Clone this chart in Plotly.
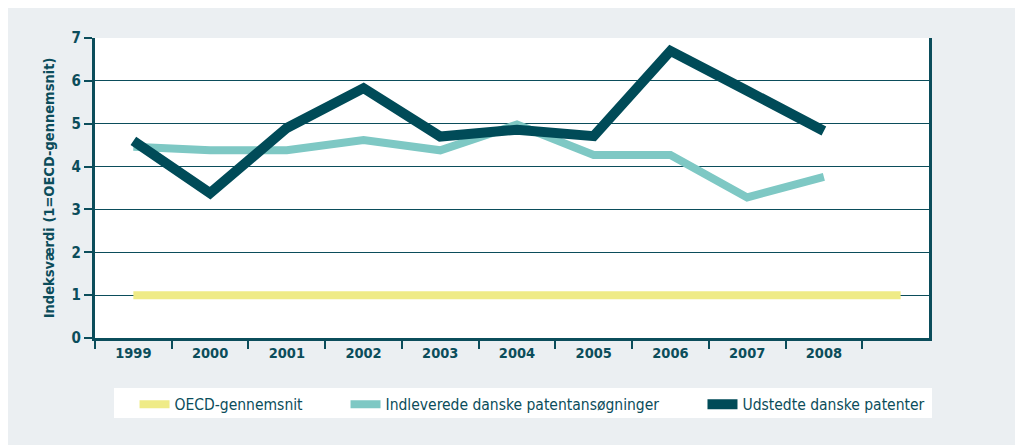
import plotly.graph_objects as go

years = ["1999", "2000", "2001", "2002", "2003", "2004", "2005", "2006", "2007", "2008"]
oecd = [1, 1, 1, 1, 1, 1, 1, 1, 1, 1, 1]
indleverede = [4.46, 4.38, 4.38, 4.62, 4.38, 4.98, 4.27, 4.27, 3.28, 3.76]
udstedte = [4.6, 3.38, 4.9, 5.83, 4.7, 4.86, 4.71, 6.7, 5.77, 4.83]

DARK = "#004b58"
LIGHT = "#7ec8c4"
YELLOW = "#efeb87"
AXIS = "#0b4d5b"
BG = "#ebeff2"
NARROW = "DejaVu Sans Condensed, Roboto"

fig = go.Figure()
fig.add_trace(go.Scatter(x=list(range(len(oecd))), y=oecd, mode="lines", legend="legend",
                         line=dict(color=YELLOW, width=8), name="OECD-gennemsnit"))
fig.add_trace(go.Scatter(x=list(range(len(indleverede))), y=indleverede, mode="lines", legend="legend2",
                         line=dict(color=LIGHT, width=8), name="Indleverede danske patentansøgninger"))
fig.add_trace(go.Scatter(x=list(range(len(udstedte))), y=udstedte, mode="lines", legend="legend3",
                         line=dict(color=DARK, width=10), name="Udstedte danske patenter"))

fig.add_shape(type="rect", xref="paper", yref="paper", x0=0.0228, x1=1.0036,
              y0=-0.2667, y1=-0.1667, fillcolor="white", line=dict(width=0), layer="below")

leg_common = dict(orientation="h", y=-0.222, yanchor="middle", xanchor="left",
                  bgcolor="rgba(0,0,0,0)", font=dict(size=15.5, color=AXIS, family=NARROW),
                  itemwidth=30)

fig.update_layout(
    width=1015, height=437,
    margin=dict(l=87, r=94, t=30, b=107),
    paper_bgcolor=BG, plot_bgcolor="white",
    font=dict(family=NARROW, color=AXIS),
    showlegend=True,
    legend=dict(x=0.0474, **leg_common),
    legend2=dict(x=0.3004, **leg_common),
    legend3=dict(x=0.7284, **leg_common),
    xaxis=dict(range=[-0.5, 10.37], tickmode="array", tickvals=list(range(len(years))),
               ticktext=["<b>%s</b>" % y for y in years], ticks="", showgrid=False, zeroline=False,
               showline=True, linecolor=AXIS, linewidth=3,
               tickfont=dict(size=14.5, color=AXIS, family=NARROW),
               minor=dict(tickmode="array", tickvals=[i - 0.5 for i in range(11)],
                          ticks="outside", ticklen=8, tickwidth=1.5, tickcolor=AXIS, showgrid=False),
               fixedrange=True),
    yaxis=dict(range=[0, 7], tickmode="array", tickvals=[0, 1, 2, 3, 4, 5, 6, 7],
               ticktext=["<b>%d</b>" % v for v in range(8)],
               ticks="outside", ticklen=8, tickwidth=1.5, tickcolor=AXIS,
               showgrid=True, gridcolor=AXIS, gridwidth=1.3, zeroline=False,
               showline=True, linecolor=AXIS, linewidth=3, mirror=True,
               tickfont=dict(size=15, color=AXIS, family=NARROW),
               title=dict(text="<b>Indeksværdi (1=OECD-gennemsnit)</b>", standoff=14,
                          font=dict(size=14.5, color=AXIS, family=NARROW))),
)

fig.write_html("out.html")
